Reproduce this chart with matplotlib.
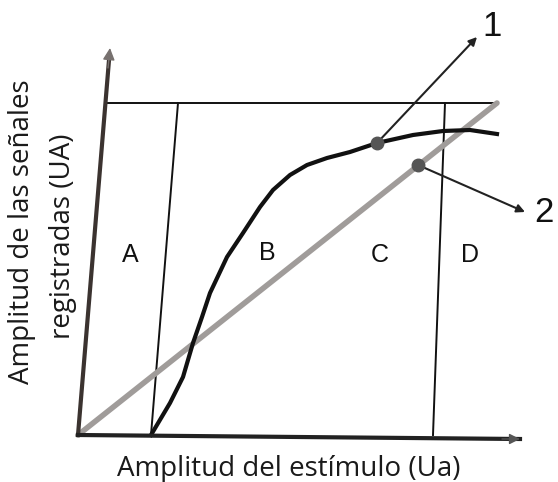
import numpy as np
import matplotlib.pyplot as plt

plt.rcParams['font.family'] = ['Open Sans', 'DejaVu Sans']

# diagram, origin at the corner of the two axes (pixel-like units)
curve_x = [73, 92, 105, 115, 124, 132, 149, 165, 182, 195, 212, 229, 249, 272, 299, 335, 365, 392, 419]
curve_y = [0, 32, 58, 92, 118, 142, 178, 202, 228, 245, 260, 270, 277, 283, 292, 300, 304, 305, 301]

linear_x = [0, 419]
linear_y = [0, 332]

y_axis_x = [0, 32]
y_axis_y = [0, 387]
x_axis_x = [0, 442]
x_axis_y = [0, -4]

top_x = [29, 419]
top_y = [332, 332]
ab_x = [73, 100]
ab_y = [0, 332]
cd_x = [355, 367]
cd_y = [0, 332]

regions = ['A', 'B', 'C', 'D']
region_x = [52, 189, 302, 392]
region_y = [180, 182, 180, 180]

point1 = (299, 292)
point2 = (340, 270)
tip1 = (399, 398)
tip2 = (447, 223)
label1 = (414, 409)
label2 = (466, 222)

fig = plt.figure(figsize=(5.58, 4.82), dpi=100)
ax = fig.add_axes([0, 0, 1, 1])
ax.set_xlim(-78, 480)
ax.set_ylim(-47, 435)
ax.axis('off')

# frame lines
ax.plot(top_x, top_y, color='#111111', lw=1.4)
ax.plot(ab_x, ab_y, color='#111111', lw=1.4)
ax.plot(cd_x, cd_y, color='#111111', lw=1.4)

# straight (grey) response and curved (black) response
ax.plot(linear_x, linear_y, color='#a09c9a', lw=4, solid_capstyle='round', zorder=3)
ax.plot(curve_x, curve_y, color='#111111', lw=3, solid_joinstyle='round', zorder=4)

# axes with arrows (the shaft stops inside the head)
head = 10
ya_end = (y_axis_x[1] - head * 32 / 387, y_axis_y[1] - head)
ax.plot([y_axis_x[0], ya_end[0]], [y_axis_y[0], ya_end[1]], color='#3b3330', lw=3, zorder=5)
ax.plot(x_axis_x, x_axis_y, color='#222222', lw=3, zorder=5)
ax.annotate('', xy=(y_axis_x[1], y_axis_y[1]), xytext=(y_axis_x[1] - 2, y_axis_y[1] - 20),
            arrowprops=dict(arrowstyle='-|>', color='#77716f', lw=1, mutation_scale=18,
                            shrinkA=0, shrinkB=0), zorder=6)
ax.annotate('', xy=(x_axis_x[1], x_axis_y[1]), xytext=(x_axis_x[1] - 18, x_axis_y[1]),
            arrowprops=dict(arrowstyle='-|>', color='#555555', lw=1, mutation_scale=16,
                            shrinkA=0, shrinkB=0), zorder=6)

# pointers 1 and 2
for pt, tip, lab, txt in [(point1, tip1, label1, '1'), (point2, tip2, label2, '2')]:
	ax.annotate('', xy=tip, xytext=pt,
	            arrowprops=dict(arrowstyle='-|>', color='#222222', lw=1.5, mutation_scale=12,
	                            shrinkA=0, shrinkB=0), zorder=6)
	ax.plot(*pt, 'o', color='#555555', ms=9, zorder=7)
	ax.text(lab[0], lab[1], txt, fontsize=25, ha='center', va='center', color='#111111',
	        family='Liberation Sans')

for r, x, y in zip(regions, region_x, region_y):
	ax.text(x, y, r, fontsize=18, ha='center', va='center', color='#111111',
	        family='Liberation Sans')

ax.text(211, -34, 'Amplitud del estímulo (Ua)', fontsize=20, ha='center', va='center', color='#1a1a1a')
ax.text(-56, 203, 'Amplitud de las señales', fontsize=20, ha='center', va='center',
        rotation=90, color='#1a1a1a')
ax.text(-15, 199, 'registradas (UA)', fontsize=20, ha='center', va='center',
        rotation=90, color='#1a1a1a')

plt.savefig('out.png', dpi=100)
